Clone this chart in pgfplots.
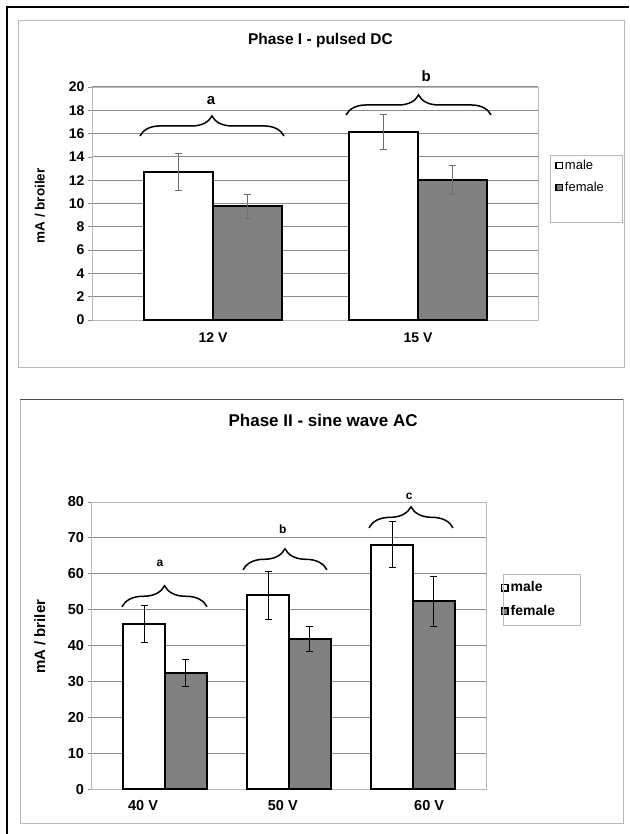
\documentclass[border=0pt]{standalone}
\usepackage{pgfplots}
\pgfplotsset{compat=1.18}
\usepackage{fontspec}
\setmainfont{Liberation Sans}
\usetikzlibrary{decorations.pathreplacing}
\definecolor{fem}{RGB}{128,128,128}
\definecolor{gridc}{RGB}{140,140,140}
\definecolor{framec}{RGB}{185,185,185}
\definecolor{errc}{RGB}{110,110,110}

\pgfplotsset{
  chartbase/.style={
    scale only axis, clip=false,
    /pgf/number format/assume math mode=true,
    axis line style={framec, line width=0.8pt},
    ymajorgrids, major grid style={gridc, line width=1pt},
    xtick style={draw=none},
    ytick pos=left, tick align=outside, major tick length=4pt,
    ytick style={gridc, line width=0.8pt},
    legend cell align=left,
    legend image code/.code={\draw[#1, line width=1.3pt] (0pt,-3.2pt) rectangle (6.4pt,3.2pt);},
  },
  barsty/.style={ybar, bar shift=0pt, bar width=0.338, draw=black, line width=2pt},
}

\begin{document}
\begin{tikzpicture}[x=1pt,y=1pt]
\useasboundingbox (0,0) rectangle (629,-834);
\draw[line width=2.5pt] (7,-834) -- (7,-7) -- (629,-7);
\draw[framec, line width=1pt] (18,-21) rectangle (624,-367);
\draw[framec, line width=1pt] (20,-399) rectangle (623,-823);
\draw[gray!60!black, line width=1pt] (20,-399) -- (623,-399);

% ---------- Phase I ----------
\begin{axis}[chartbase,
  at={(92pt,-320pt)}, anchor=south west,
  width=446pt, height=233pt,
  xmin=-0.59, xmax=1.585, ymin=0, ymax=20,
  ytick={0,2,...,20},
  xtick={0,1}, xticklabels={12 V, 15 V},
  tick label style={font=\fontsize{14}{14}\selectfont\bfseries},
  xticklabel style={yshift=-5pt},
  title={Phase I - pulsed DC},
  title style={at={(axis description cs:0.512,1.202)}, anchor=center, yshift=-7pt, font=\fontsize{15.5}{15.5}\selectfont\bfseries},
  ylabel={mA / broiler},
  ylabel style={at={(axis description cs:-0.117,0.49)}, anchor=center, font=\fontsize{13.5}{13.5}\selectfont\bfseries},
  legend style={at={(axis description cs:1.036,0.70)}, anchor=north west, draw=none, fill=none,
    font=\fontsize{13}{13}\selectfont, row sep=7pt, inner sep=1pt},
]
\addplot[barsty, fill=white,
  error bars/.cd, y dir=both, y explicit,
  error bar style={errc, line width=1pt},
  error mark options={rotate=90, mark size=3.5pt, errc, line width=1pt}]
  coordinates {(-0.169,12.7) +- (0,1.6) (0.831,16.1) +- (0,1.5)};
\addlegendentry{male}
\addplot[barsty, fill=fem,
  error bars/.cd, y dir=both, y explicit,
  error bar style={errc, line width=1pt},
  error mark options={rotate=90, mark size=3.5pt, errc, line width=1pt}]
  coordinates {(0.169,9.75) +- (0,1.0) (1.169,12.05) +- (0,1.25)};
\addlegendentry{female}
\draw[decorate, decoration={brace, amplitude=20pt}, line width=1.5pt] (axis cs:-0.356,15.8) -- (axis cs:0.346,15.8);
\draw[decorate, decoration={brace, amplitude=20pt}, line width=1.5pt] (axis cs:0.649,17.6) -- (axis cs:1.356,17.6);
\node[font=\fontsize{15}{15}\selectfont\bfseries] at (axis cs:-0.01,18.8) {a};
\node[font=\fontsize{15}{15}\selectfont\bfseries] at (axis cs:1.04,20.9) {b};
\end{axis}
\draw[framec, line width=1pt] (550,-156) rectangle (622,-223);

% ---------- Phase II ----------
\begin{axis}[chartbase,
  at={(91.5pt,-789pt)}, anchor=south west,
  width=394.5pt, height=287pt,
  xmin=-0.593, xmax=2.589, ymin=0, ymax=80,
  ytick={0,10,...,80},
  xtick={-0.177,0.95,2.13}, xticklabels={40 V, 50 V, 60 V},
  tick label style={font=\fontsize{14.5}{14.5}\selectfont\bfseries},
  xticklabel style={yshift=-4pt},
  title={Phase II - sine wave AC},
  title style={at={(axis description cs:0.587,1.286)}, anchor=center, yshift=-6pt, font=\fontsize{17}{17}\selectfont\bfseries},
  ylabel={mA / briler},
  ylabel style={at={(axis description cs:-0.131,0.53)}, anchor=center, font=\fontsize{15}{15}\selectfont\bfseries},
  legend style={at={(axis description cs:1.035,0.733)}, anchor=north west, draw=none, fill=none,
    font=\fontsize{14}{14}\selectfont\bfseries, row sep=8pt, inner sep=1pt},
]
\addplot[barsty, fill=white,
  error bars/.cd, y dir=both, y explicit,
  error bar style={black, line width=1pt},
  error mark options={rotate=90, mark size=3.5pt, black, line width=1pt}]
  coordinates {(-0.169,46) +- (0,5.1) (0.831,54) +- (0,6.7) (1.831,68.1) +- (0,6.4)};
\addlegendentry{male}
\addplot[barsty, fill=fem,
  error bars/.cd, y dir=both, y explicit,
  error bar style={black, line width=1pt},
  error mark options={rotate=90, mark size=3.5pt, black, line width=1pt}]
  coordinates {(0.169,32.4) +- (0,3.8) (1.169,41.8) +- (0,3.5) (2.169,52.3) +- (0,7)};
\addlegendentry{female}
\draw[decorate, decoration={brace, amplitude=21pt}, line width=1.5pt] (axis cs:-0.347,50.8) -- (axis cs:0.339,50.8);
\draw[decorate, decoration={brace, amplitude=21pt}, line width=1.5pt] (axis cs:0.629,61.1) -- (axis cs:1.306,61.1);
\draw[decorate, decoration={brace, amplitude=21pt}, line width=1.5pt] (axis cs:1.645,72.8) -- (axis cs:2.323,72.8);
\node[font=\fontsize{12}{12}\selectfont\bfseries] at (axis cs:-0.04,62.8) {a};
\node[font=\fontsize{12}{12}\selectfont\bfseries] at (axis cs:0.95,72.5) {b};
\node[font=\fontsize{12}{12}\selectfont\bfseries] at (axis cs:1.97,81.7) {c};
\end{axis}
\draw[framec, line width=1pt] (503,-574) rectangle (580,-625);
\end{tikzpicture}
\end{document}
